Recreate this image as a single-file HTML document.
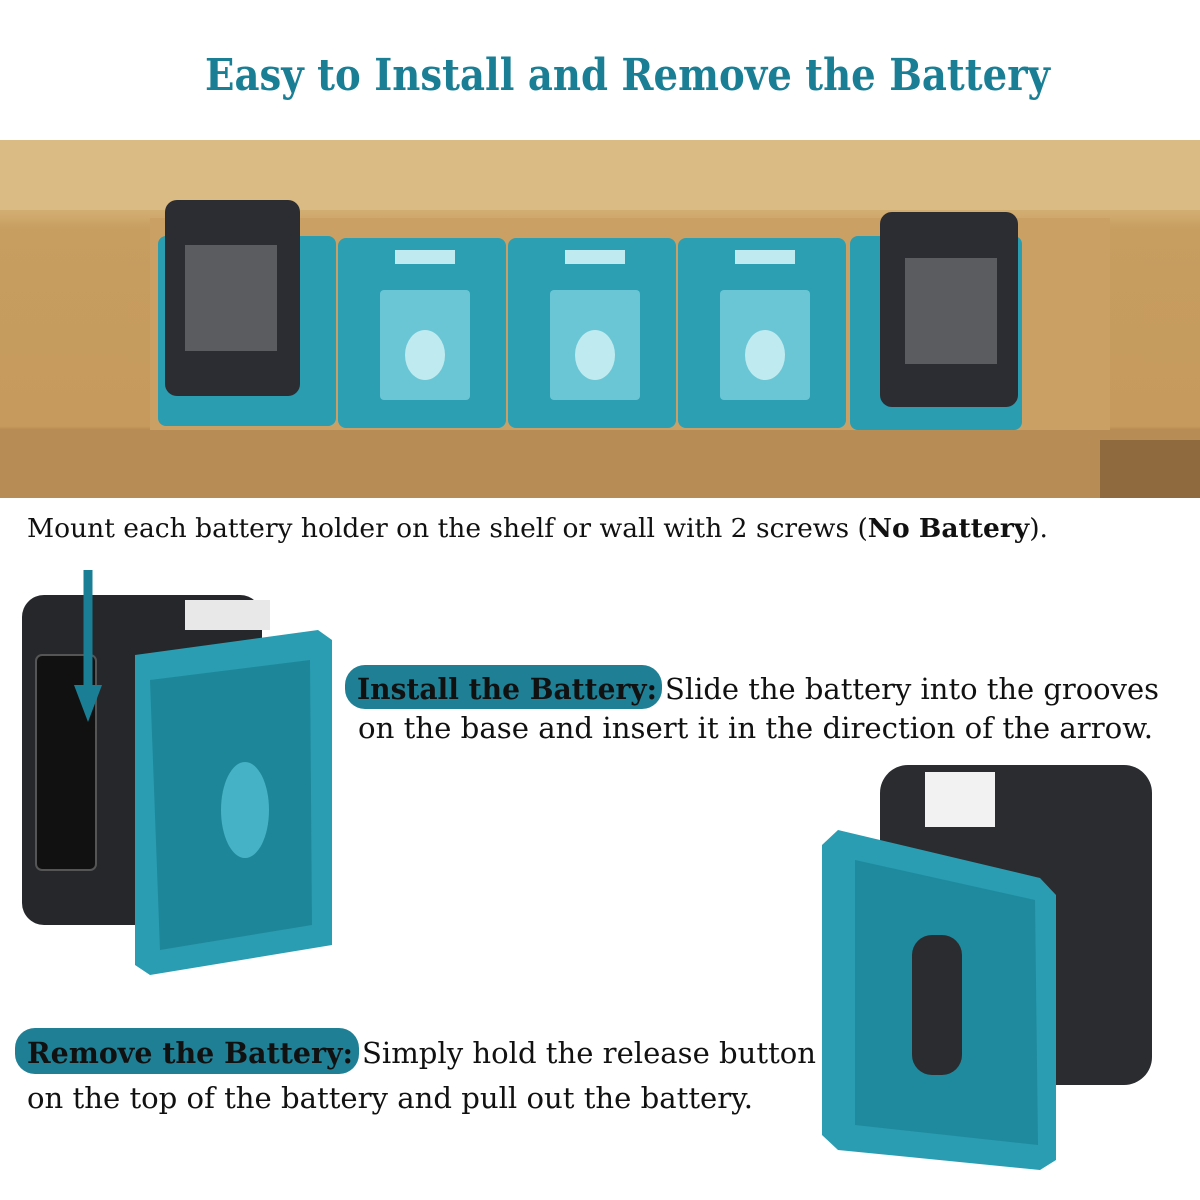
<!DOCTYPE html>
<html><head><meta charset="utf-8"><style>html,body{margin:0;padding:0;background:#fff}svg{display:block}</style></head>
<body>
<svg width="1200" height="1200" viewBox="0 0 1200 1200" xmlns="http://www.w3.org/2000/svg" font-family="'DejaVu Serif', 'Liberation Serif', serif">
<defs>
<linearGradient id="wood" x1="0" y1="0" x2="0" y2="1">
<stop offset="0" stop-color="#dcbd86"/><stop offset="0.2" stop-color="#d2ad72"/><stop offset="0.25" stop-color="#c79d60"/><stop offset="0.8" stop-color="#c69a5c"/><stop offset="0.82" stop-color="#a77a45"/><stop offset="1" stop-color="#c49a62"/>
</linearGradient>
</defs>
<text x="205" y="90" textLength="845" lengthAdjust="spacingAndGlyphs" font-size="44" font-weight="bold" fill="#1a7f95">Easy to Install and Remove the Battery</text>
<rect x="0" y="140" width="1200" height="358" fill="url(#wood)"/>
<rect x="0" y="140" width="1200" height="70" fill="#dbbb84"/>
<rect x="150" y="218" width="960" height="212" fill="#caa064"/>
<rect x="0" y="430" width="1200" height="68" fill="#b78c55"/>
<rect x="1100" y="440" width="100" height="58" fill="#8f6a3e"/>
<rect x="158" y="236" width="178" height="190" rx="8" fill="#2a9db1"/>
<rect x="338" y="238" width="168" height="190" rx="8" fill="#2c9fb3"/>
<rect x="508" y="238" width="168" height="190" rx="8" fill="#2c9fb3"/>
<rect x="678" y="238" width="168" height="190" rx="8" fill="#2c9fb3"/>
<rect x="850" y="236" width="172" height="194" rx="8" fill="#2a9db1"/>
<g fill="#6ac6d5">
<rect x="380" y="290" width="90" height="110" rx="4"/><rect x="550" y="290" width="90" height="110" rx="4"/><rect x="720" y="290" width="90" height="110" rx="4"/>
</g>
<g fill="#bfeaf0">
<rect x="395" y="250" width="60" height="14"/><rect x="565" y="250" width="60" height="14"/><rect x="735" y="250" width="60" height="14"/>
<ellipse cx="425" cy="355" rx="20" ry="25"/><ellipse cx="595" cy="355" rx="20" ry="25"/><ellipse cx="765" cy="355" rx="20" ry="25"/>
</g>
<rect x="165" y="200" width="135" height="196" rx="12" fill="#2b2d33"/>
<rect x="185" y="245" width="92" height="106" fill="#5a5c60"/>
<rect x="880" y="212" width="138" height="195" rx="12" fill="#2b2d33"/>
<rect x="905" y="258" width="92" height="106" fill="#5a5c60"/>
<text x="27" y="537" textLength="1021" lengthAdjust="spacingAndGlyphs" font-size="26" fill="#111">Mount each battery holder on the shelf or wall with 2 screws (<tspan font-weight="bold">No Battery</tspan>).</text>
<rect x="22" y="595" width="240" height="330" rx="22" fill="#25272b"/>
<rect x="36" y="655" width="60" height="215" rx="6" fill="#111" stroke="#555" stroke-width="2"/>
<rect x="185" y="600" width="85" height="30" fill="#e8e8e8"/>
<polygon points="135,655 318,630 332,640 332,945 150,975 135,965" fill="#2a9db2"/>
<polygon points="150,680 310,660 312,925 160,950" fill="#1e8699"/>
<ellipse cx="245" cy="810" rx="24" ry="48" fill="#45b3c5"/>
<line x1="88" y1="570" x2="88" y2="690" stroke="#1a7f95" stroke-width="9"/>
<polygon points="74,685 102,685 88,722" fill="#1a7f95"/>
<rect x="880" y="765" width="272" height="320" rx="28" fill="#2a2c30"/>
<rect x="925" y="772" width="70" height="55" fill="#f2f2f2"/>
<polygon points="838,830 1040,878 1056,895 1056,1160 1040,1170 838,1150 822,1135 822,845" fill="#2a9db2"/>
<polygon points="855,860 1035,900 1038,1145 855,1125" fill="#1f8a9d"/>
<rect x="912" y="935" width="50" height="140" rx="20" fill="#2a2c30"/>
<rect x="345" y="665" width="317" height="44" rx="20" fill="#1f7f95"/>
<text x="357" y="699" textLength="300" lengthAdjust="spacingAndGlyphs" font-size="29" font-weight="bold" fill="#111">Install the Battery:</text>
<text x="665" y="699" textLength="494" lengthAdjust="spacingAndGlyphs" font-size="29" fill="#111">Slide the battery into the grooves</text>
<text x="358" y="738" textLength="795" lengthAdjust="spacingAndGlyphs" font-size="29" fill="#111">on the base and insert it in the direction of the arrow.</text>
<rect x="15" y="1028" width="344" height="46" rx="20" fill="#1f7f95"/>
<text x="27" y="1063" textLength="326" lengthAdjust="spacingAndGlyphs" font-size="29" font-weight="bold" fill="#111">Remove the Battery:</text>
<text x="362" y="1063" textLength="454" lengthAdjust="spacingAndGlyphs" font-size="29" fill="#111">Simply hold the release button</text>
<text x="27" y="1108" textLength="726" lengthAdjust="spacingAndGlyphs" font-size="29" fill="#111">on the top of the battery and pull out the battery.</text>
</svg>
</body></html>
